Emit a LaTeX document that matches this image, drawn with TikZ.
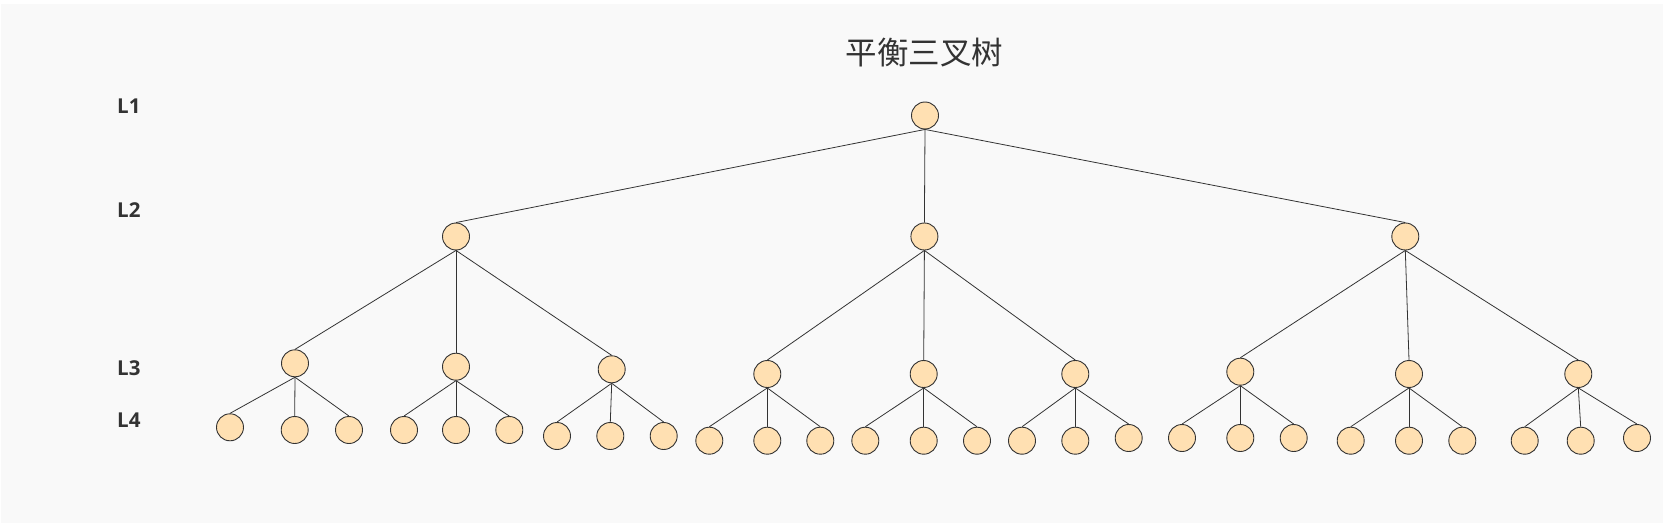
\documentclass[tikz,border=0pt]{standalone}
\usepackage{fontspec}
\newfontfamily\cjkfont{Noto Sans CJK SC}
\newfontfamily\lblfont{Open Sans}
\definecolor{bgc}{HTML}{F9F9F9}
\definecolor{nodefill}{HTML}{FFE0B2}
\definecolor{strokec}{HTML}{333333}
\definecolor{textc}{HTML}{333333}
\begin{document}
\begin{tikzpicture}[x=1pt,y=-1pt,
  tn/.style={circle,draw=strokec,fill=nodefill,line width=0.9pt,minimum size=27pt,inner sep=0pt},
  edge/.style={draw=strokec,line width=0.8pt},
  lvl/.style={anchor=west,text=textc,font=\lblfont\bfseries\fontsize{20.5}{24}\selectfont,inner sep=0pt},
  ttl/.style={text=textc,font=\cjkfont\fontsize{31.5}{36}\selectfont,inner sep=0pt}]
\useasboundingbox (0,0) rectangle (1668,524);
\fill[white] (0,0) rectangle (1668,524);
\fill[bgc] (1,4) rectangle (1663,523);
\node[ttl] (title) at (924.5,53) {平衡三叉树};
\node[lvl] (l1) at (117,106.4) {L1};
\node[lvl] (l2) at (117,210) {L2};
\node[lvl] (l3) at (117,368) {L3};
\node[lvl] (l4) at (117,419.7) {L4};
% level 1
\node[tn] (r) at (925,115.5) {};
% level 2
\node[tn] (a) at (456,236.5) {};
\node[tn] (b) at (924.4,236.5) {};
\node[tn] (c) at (1405.3,236.5) {};
% level 3
\node[tn] (a1) at (295,363.3) {};
\node[tn] (a2) at (456,366.7) {};
\node[tn] (a3) at (611.7,369.3) {};
\node[tn] (b1) at (767.3,374) {};
\node[tn] (b2) at (923.7,374) {};
\node[tn] (b3) at (1075.3,374) {};
\node[tn] (c1) at (1240.3,371.7) {};
\node[tn] (c2) at (1409,374) {};
\node[tn] (c3) at (1578.3,374) {};
% level 4
\node[tn] (a11) at (230,427.3) {};
\node[tn] (a12) at (294.7,430) {};
\node[tn] (a13) at (349,430) {};
\node[tn] (a21) at (404,430) {};
\node[tn] (a22) at (456,430) {};
\node[tn] (a23) at (509.3,430) {};
\node[tn] (a31) at (557,436) {};
\node[tn] (a32) at (610.3,436) {};
\node[tn] (a33) at (663.7,436) {};
\node[tn] (b11) at (709.3,440.7) {};
\node[tn] (b12) at (767.3,440.7) {};
\node[tn] (b13) at (820.3,440.7) {};
\node[tn] (b21) at (865.3,440.7) {};
\node[tn] (b22) at (923.7,440.7) {};
\node[tn] (b23) at (977,440.7) {};
\node[tn] (b31) at (1022,440.7) {};
\node[tn] (b32) at (1075.3,440.7) {};
\node[tn] (b33) at (1128.7,438) {};
\node[tn] (c11) at (1182,438) {};
\node[tn] (c12) at (1240.3,438) {};
\node[tn] (c13) at (1293.7,438) {};
\node[tn] (c21) at (1350.7,440.7) {};
\node[tn] (c22) at (1409,440.7) {};
\node[tn] (c23) at (1462.3,440.7) {};
\node[tn] (c31) at (1524.7,440.7) {};
\node[tn] (c32) at (1580.7,440.7) {};
\node[tn] (c33) at (1637,438) {};
% edges
\foreach \p/\k in {r/a,r/b,r/c,a/a1,a/a2,a/a3,b/b1,b/b2,b/b3,c/c1,c/c2,c/c3,
  a1/a11,a1/a12,a1/a13,a2/a21,a2/a22,a2/a23,a3/a31,a3/a32,a3/a33,
  b1/b11,b1/b12,b1/b13,b2/b21,b2/b22,b2/b23,b3/b31,b3/b32,b3/b33,
  c1/c11,c1/c12,c1/c13,c2/c21,c2/c22,c2/c23,c3/c31,c3/c32,c3/c33}
  \draw[edge] (\p.south) -- (\k.north);
\end{tikzpicture}
\end{document}
